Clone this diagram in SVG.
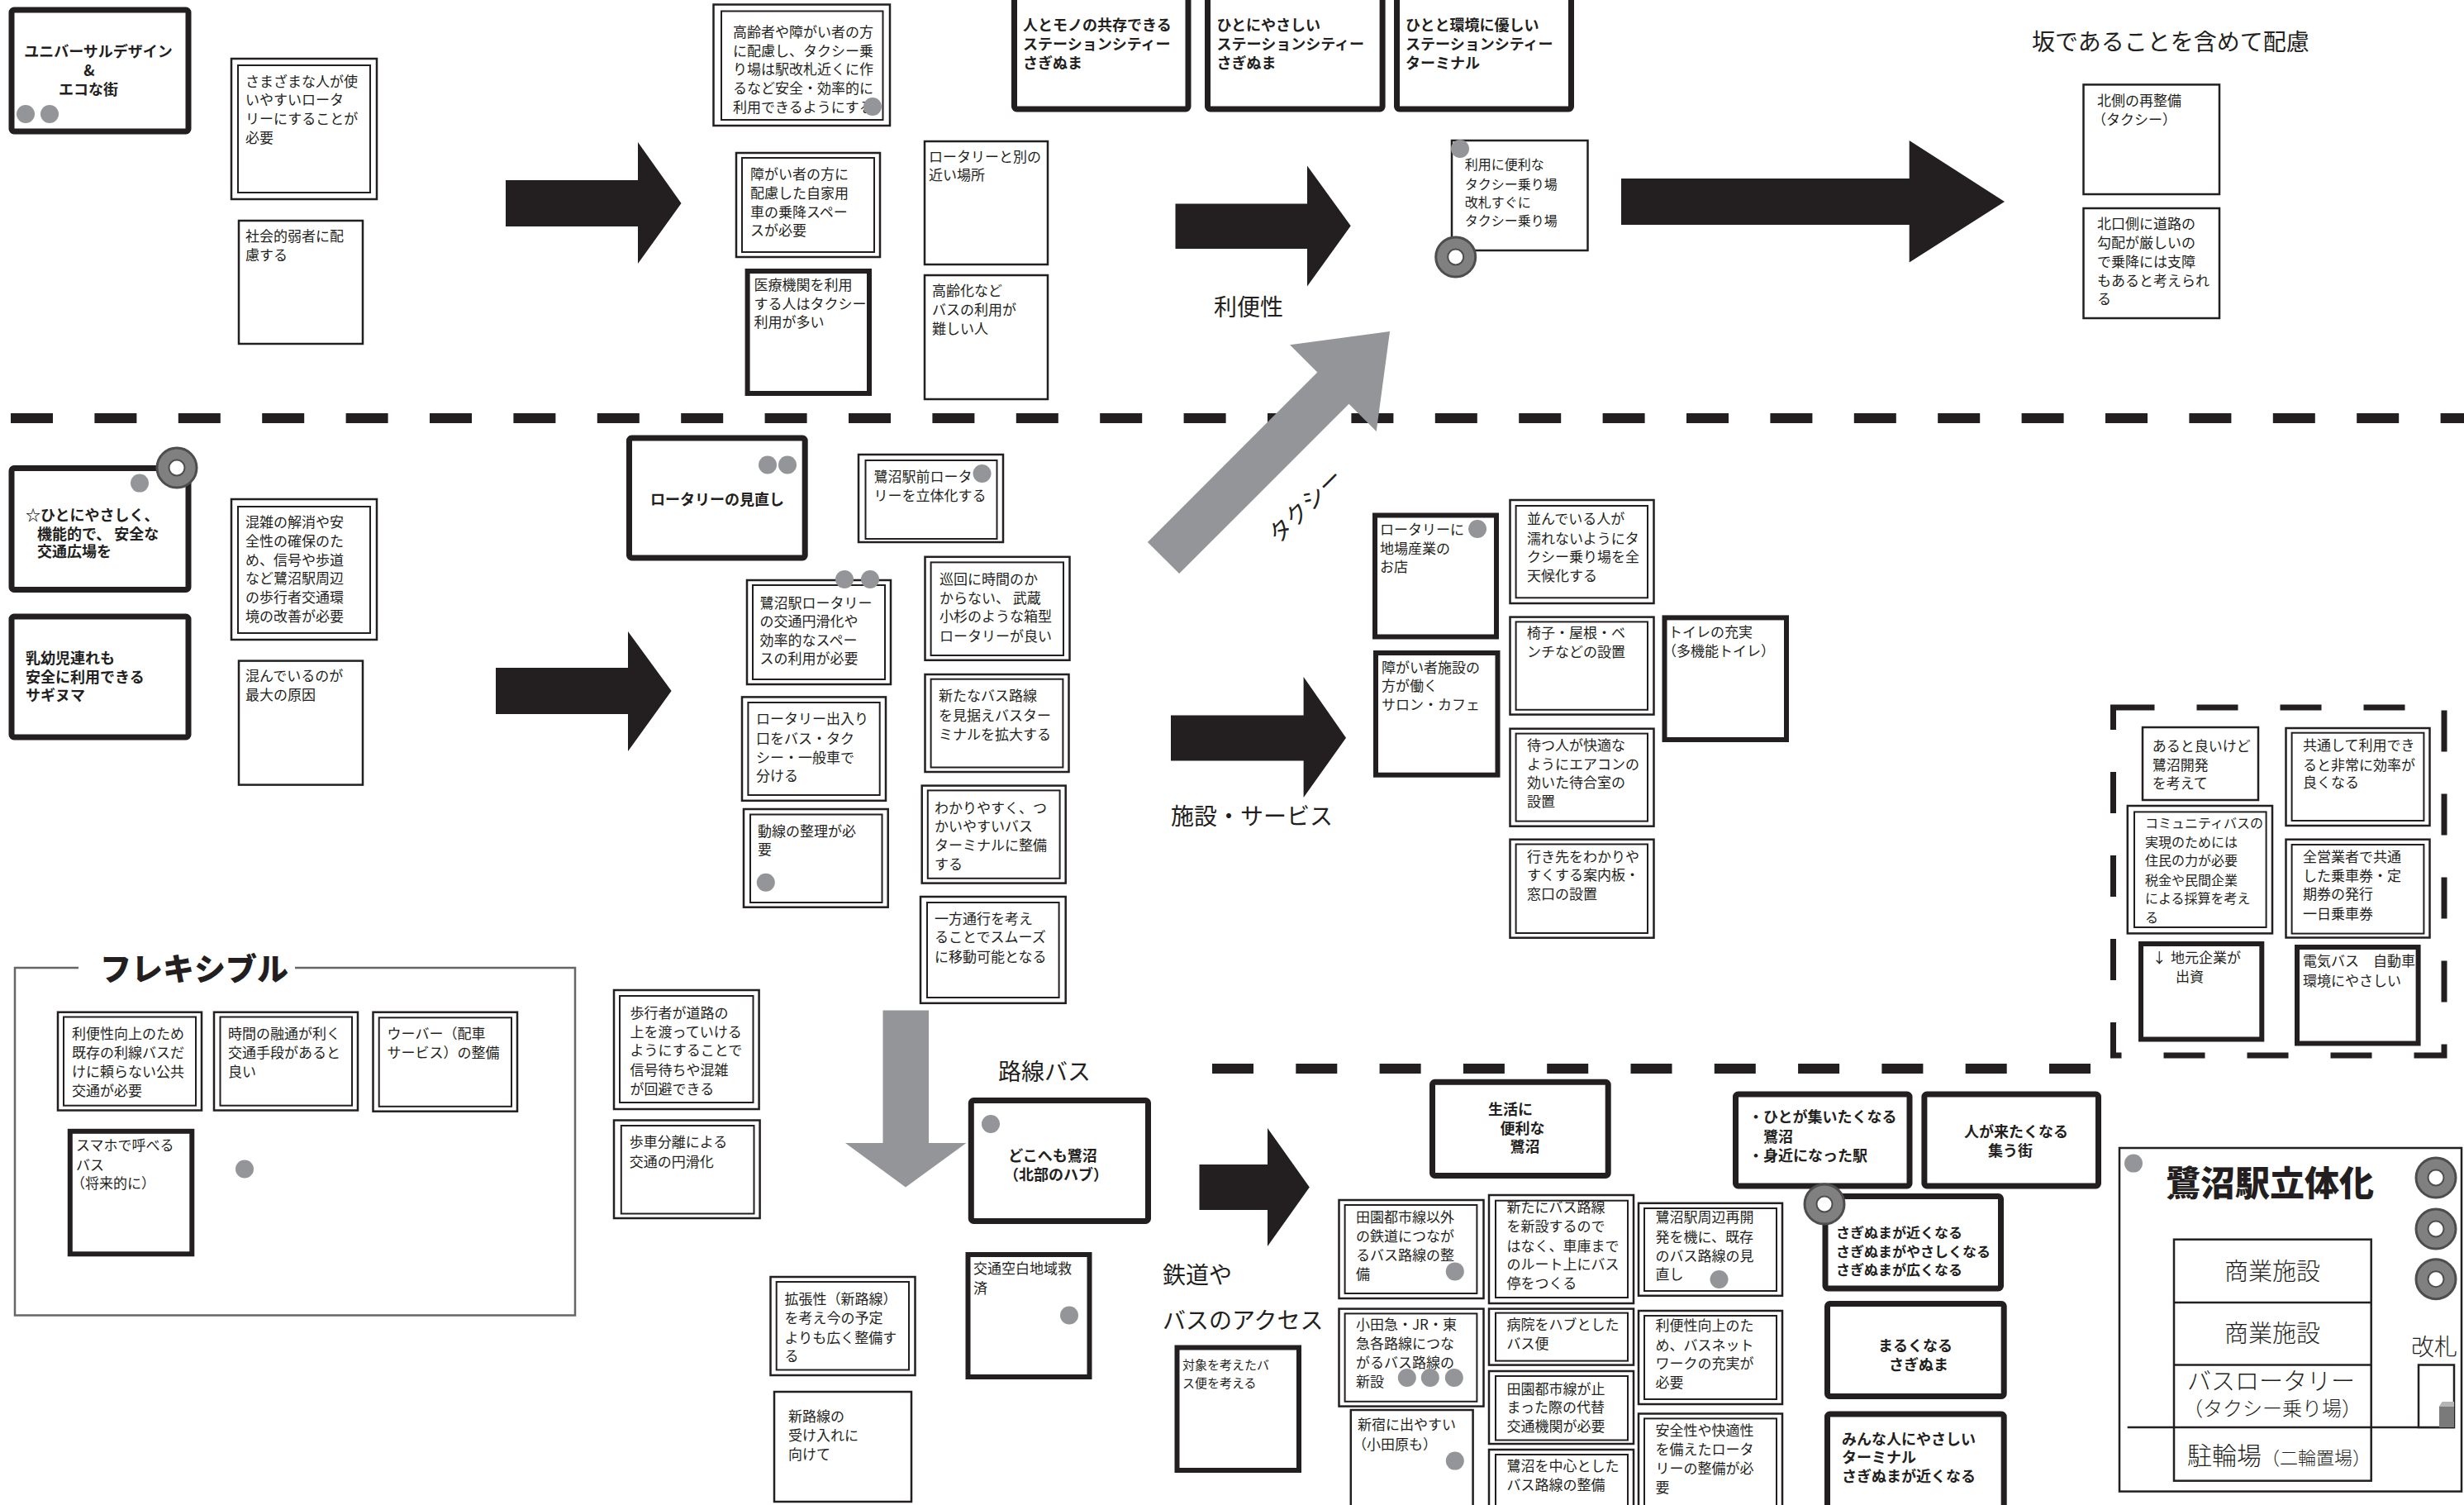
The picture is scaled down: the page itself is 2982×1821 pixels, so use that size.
<svg xmlns="http://www.w3.org/2000/svg" width="2982" height="1821" viewBox="0 0 2982 1821">
<defs>
<style>
.bx{fill:#fff;stroke:#231f20;stroke-width:2.5}
.bi{fill:none;stroke:#231f20;stroke-width:2}
.bt{fill:#fff;stroke:#231f20;stroke-width:6}
.bh{fill:#fff;stroke:#231f20;stroke-width:7}
text{font-family:"Noto Sans CJK JP","Noto Sans CJK SC",sans-serif;fill:#231f20}
.t{font-size:17px}
.s{font-size:16px}
.s15{font-size:15px}
.b{font-size:18px;font-weight:700}
.b17{font-size:17px;font-weight:700}
.lb{font-size:28px;font-weight:400}
.dot{fill:#939598}
.blk{fill:#231f20}
.gry{fill:#939598}
.dash{stroke:#231f20;stroke-width:12;fill:none}
.mid{text-anchor:middle}
</style>
<g id="ring"><circle r="24" fill="#808080" stroke="#4d4d4d" stroke-width="3"/><circle r="9.5" fill="#fff" stroke="#4d4d4d" stroke-width="2"/></g>
</defs>
<rect width="2982" height="1821" fill="#fff"/>

<g id="dividers">
<line x1="13" y1="506" x2="2982" y2="506" class="dash" stroke-dasharray="51 50.4"/>
<line x1="1467" y1="1293" x2="2531" y2="1293" class="dash" stroke-dasharray="50 51.3"/>
</g>

<g id="connectors">
<polygon class="blk" points="612,218 772,218 772,172 824.5,246 772,319 772,274 612,274"/>
<polygon class="blk" points="600,808 760,808 760,764 812.6,836 760,909 760,864 600,864"/>
<polygon class="blk" points="1422.5,246.6 1582,246.6 1582,200.5 1634.7,273.3 1582,346.5 1582,301 1422.5,301"/>
<polygon class="blk" points="1962,216 2310.7,216 2310.7,170 2426,244 2310.7,317.5 2310.7,272 1962,272"/>
<polygon class="blk" points="1417,865.6 1577.6,865.6 1577.6,819 1629,892.7 1577.6,965 1577.6,920.6 1417,920.6"/>
<polygon class="blk" points="1451.5,1409 1534,1409 1534,1365 1584.8,1436.6 1534,1508 1534,1464 1451.5,1464"/>
<polygon class="gry" points="1068.5,1222.5 1124,1222.5 1124,1383 1169.4,1383 1096,1436.6 1023,1383 1068.5,1383"/>
<g transform="translate(1408,675) rotate(-45)">
<polygon class="gry" points="0,-27 290.5,-27 290.5,-74 387.5,0 290.5,74 290.5,27 0,27"/>
<text class="lb mid" x="166" y="87">タクシー</text>
</g>
</g>

<g id="labels">
<text class="lb" x="1469" y="382">利便性</text>
<text class="lb" x="2459" y="61">坂であることを含めて配慮</text>
<text class="lb" x="1417" y="998">施設・サービス</text>
<text class="lb" x="1208" y="1307">路線バス</text>
<text class="lb" x="1407" y="1553">鉄道や</text>
<text class="lb" x="1407" y="1608">バスのアクセス</text>
</g>

<!-- Section 1 -->
<g id="n-universal">
<rect class="bh" x="14" y="12" width="214" height="147" rx="3"/>
<text class="b mid" x="119" y="69">ユニバーサルデザイン</text>
<text class="b mid" x="108" y="92">&amp;</text>
<text class="b mid" x="107" y="115">エコな街</text>
<circle class="dot" cx="31" cy="138" r="11"/><circle class="dot" cx="60" cy="138" r="11"/>
</g>
<g id="n-samazama">
<rect class="bx" x="280" y="71" width="176" height="170"/><rect class="bi" x="288" y="79" width="160" height="154"/>
<text class="t"><tspan x="297" y="104.7">さまざまな人が使</tspan><tspan x="297" y="127.3">いやすいロータ</tspan><tspan x="297" y="149.9">リーにすることが</tspan><tspan x="297" y="172.5">必要</tspan></text>
</g>
<g id="n-shakai">
<rect class="bx" x="289" y="267" width="150" height="149"/>
<text class="t"><tspan x="297" y="291.7">社会的弱者に配</tspan><tspan x="297" y="314.5">慮する</tspan></text>
</g>
<g id="n-koreisha">
<rect class="bx" x="863.5" y="5.5" width="213.5" height="146.5"/><rect class="bi" x="873" y="13.5" width="195.5" height="131.5"/>
<text class="t"><tspan x="887" y="44.7">高齢者や障がい者の方</tspan><tspan x="887" y="67.7">に配慮し、タクシー乗</tspan><tspan x="887" y="90.3">り場は駅改札近くに作</tspan><tspan x="887" y="113">るなど安全・効率的に</tspan><tspan x="887" y="135.7">利用できるようにする</tspan></text>
<circle class="dot" cx="1056" cy="129" r="11"/>
</g>
<g id="n-shogai-jikayo">
<rect class="bx" x="891" y="185" width="174" height="126"/><rect class="bi" x="898" y="191" width="160" height="114"/>
<text class="t"><tspan x="908" y="217">障がい者の方に</tspan><tspan x="908" y="240">配慮した自家用</tspan><tspan x="908" y="262.7">車の乗降スペー</tspan><tspan x="908" y="284.7">スが必要</tspan></text>
</g>
<g id="n-iryo">
<rect class="bt" x="904.6" y="328" width="147.4" height="148"/>
<text class="t"><tspan x="912.5" y="350.6">医療機関を利用</tspan><tspan x="912.5" y="373.8">する人はタクシー</tspan><tspan x="912.5" y="396">利用が多い</tspan></text>
</g>
<g id="n-betsu">
<rect class="bx" x="1119" y="171" width="149" height="149"/>
<text class="t"><tspan x="1124" y="195.7">ロータリーと別の</tspan><tspan x="1124" y="218">近い場所</tspan></text>
</g>
<g id="n-koreika">
<rect class="bx" x="1119" y="333" width="149" height="150"/>
<text class="t"><tspan x="1128" y="357.5">高齢化など</tspan><tspan x="1128" y="380.8">バスの利用が</tspan><tspan x="1128" y="404">難しい人</tspan></text>
</g>
<g id="n-hito-mono">
<rect class="bh" x="1227.5" y="-10" width="210.5" height="142" rx="3"/>
<text class="b"><tspan x="1238" y="37">人とモノの共存できる</tspan><tspan x="1238" y="60">ステーションシティー</tspan><tspan x="1238" y="82.5">さぎぬま</tspan></text>
</g>
<g id="n-hito-yasashii">
<rect class="bh" x="1461.5" y="-10" width="211.6" height="142" rx="3"/>
<text class="b"><tspan x="1472.5" y="37">ひとにやさしい</tspan><tspan x="1472.5" y="60">ステーションシティー</tspan><tspan x="1472.5" y="82.5">さぎぬま</tspan></text>
</g>
<g id="n-hito-kankyo">
<rect class="bh" x="1690.5" y="-10" width="211" height="142" rx="3"/>
<text class="b"><tspan x="1701" y="37">ひとと環境に優しい</tspan><tspan x="1701" y="60">ステーションシティー</tspan><tspan x="1701" y="82.5">ターミナル</tspan></text>
</g>
<g id="n-riyo-benri">
<rect class="bx" x="1757" y="170" width="164.5" height="133"/>
<circle class="dot" cx="1767" cy="180" r="11"/>
<text class="s"><tspan x="1772.7" y="205.4">利用に便利な</tspan><tspan x="1772.7" y="228.6">タクシー乗り場</tspan><tspan x="1772.7" y="251">改札すぐに</tspan><tspan x="1772.7" y="273">タクシー乗り場</tspan></text>
<use href="#ring" x="1761.7" y="311"/>
</g>
<g id="n-kitagawa">
<rect class="bx" x="2521.5" y="102.4" width="164.5" height="132.6"/>
<text class="t"><tspan x="2538" y="128">北側の再整備</tspan><tspan x="2532" y="151">（タクシー）</tspan></text>
</g>
<g id="n-kitaguchi">
<rect class="bx" x="2521.5" y="252" width="164.5" height="133"/>
<text class="t"><tspan x="2538" y="277">北口側に道路の</tspan><tspan x="2538" y="299.5">勾配が厳しいの</tspan><tspan x="2538" y="322.7">で乗降には支障</tspan><tspan x="2538" y="346">もあると考えられ</tspan><tspan x="2538" y="368">る</tspan></text>
</g>

<!-- Section 2 -->
<g id="n-hiroba">
<rect class="bh" x="14" y="566.5" width="214" height="147" rx="3"/>
<text class="b"><tspan x="31" y="629.5">☆ひとにやさしく、</tspan><tspan x="45" y="652.7">機能的で、 安全な</tspan><tspan x="45" y="674">交通広場を</tspan></text>
<circle class="dot" cx="169" cy="584.6" r="11"/>
<use href="#ring" x="214" y="566"/>
</g>
<g id="n-nyuyoji">
<rect class="bh" x="14" y="746" width="214" height="146" rx="3"/>
<text class="b"><tspan x="31" y="803">乳幼児連れも</tspan><tspan x="31" y="825.8">安全に利用できる</tspan><tspan x="31" y="848.2">サギヌマ</tspan></text>
</g>
<g id="n-konzatsu">
<rect class="bx" x="280" y="604" width="176" height="170"/><rect class="bi" x="288" y="613" width="160" height="153"/>
<text class="t"><tspan x="297" y="638">混雑の解消や安</tspan><tspan x="297" y="661.4">全性の確保のた</tspan><tspan x="297" y="683.8">め、信号や歩道</tspan><tspan x="297" y="706">など鷺沼駅周辺</tspan><tspan x="297" y="729">の歩行者交通環</tspan><tspan x="297" y="751.6">境の改善が必要</tspan></text>
</g>
<g id="n-konde">
<rect class="bx" x="289" y="799.6" width="150" height="150"/>
<text class="t"><tspan x="297" y="824">混んでいるのが</tspan><tspan x="297" y="847">最大の原因</tspan></text>
</g>
<g id="n-rotary-minaoshi">
<rect class="bh" x="761.5" y="530" width="212.7" height="145" rx="3"/>
<text class="b mid" x="868" y="611">ロータリーの見直し</text>
<circle class="dot" cx="929" cy="562.5" r="11"/><circle class="dot" cx="953" cy="562.5" r="11"/>
</g>
<g id="n-ekimae-rittai">
<rect class="bx" x="1039" y="550" width="175" height="106"/><rect class="bi" x="1047.5" y="557" width="159" height="95"/>
<text class="t"><tspan x="1057.6" y="583">鷺沼駅前ロータ</tspan><tspan x="1057.6" y="606">リーを立体化する</tspan></text>
<circle class="dot" cx="1188.5" cy="573" r="11"/>
</g>
<g id="n-enkatsu">
<rect class="bx" x="904" y="702" width="174" height="126"/><rect class="bi" x="911" y="708" width="160" height="114"/>
<text class="t"><tspan x="919.6" y="736">鷺沼駅ロータリー</tspan><tspan x="919.6" y="758">の交通円滑化や</tspan><tspan x="919.6" y="780.6">効率的なスペー</tspan><tspan x="919.6" y="802.7">スの利用が必要</tspan></text>
<circle class="dot" cx="1022" cy="701" r="11"/><circle class="dot" cx="1053" cy="701" r="11"/>
</g>
<g id="n-deiri">
<rect class="bx" x="898" y="843.4" width="174" height="125.4"/><rect class="bi" x="905.4" y="850" width="159.3" height="112"/>
<text class="t"><tspan x="915" y="876">ロータリー出入り</tspan><tspan x="915" y="899.5">口をバス・タク</tspan><tspan x="915" y="922.7">シー・一般車で</tspan><tspan x="915" y="945">分ける</tspan></text>
</g>
<g id="n-dosen">
<rect class="bx" x="900" y="979" width="174.7" height="118.7"/><rect class="bi" x="908" y="985.5" width="159.5" height="106.5"/>
<text class="t"><tspan x="917" y="1011.8">動線の整理が必</tspan><tspan x="917" y="1034">要</tspan></text>
<circle class="dot" cx="926.8" cy="1067.7" r="11"/>
</g>
<g id="n-junkai">
<rect class="bx" x="1119.5" y="673.8" width="175" height="125"/><rect class="bi" x="1126.6" y="680.4" width="160.4" height="112.6"/>
<text class="t"><tspan x="1137" y="707">巡回に時間のか</tspan><tspan x="1137" y="730">からない、 武蔵</tspan><tspan x="1137" y="752">小杉のような箱型</tspan><tspan x="1137" y="775.6">ロータリーが良い</tspan></text>
</g>
<g id="n-terminal-kakudai">
<rect class="bx" x="1119.5" y="816" width="174" height="118"/><rect class="bi" x="1126.6" y="821.7" width="159.8" height="106.8"/>
<text class="t"><tspan x="1136" y="848">新たなバス路線</tspan><tspan x="1136" y="871.6">を見据えバスター</tspan><tspan x="1136" y="894.5">ミナルを拡大する</tspan></text>
</g>
<g id="n-wakariyasuku">
<rect class="bx" x="1115.7" y="950.6" width="174" height="118"/><rect class="bi" x="1122.8" y="956.4" width="159.8" height="106.4"/>
<text class="t"><tspan x="1131" y="983.5">わかりやすく、つ</tspan><tspan x="1131" y="1006">かいやすいバス</tspan><tspan x="1131" y="1029">ターミナルに整備</tspan><tspan x="1131" y="1051.6">する</tspan></text>
</g>
<g id="n-ippo">
<rect class="bx" x="1114" y="1085" width="175.7" height="128.8"/><rect class="bi" x="1122" y="1092" width="159.6" height="115"/>
<text class="t"><tspan x="1131" y="1118">一方通行を考え</tspan><tspan x="1131" y="1140">ることでスムーズ</tspan><tspan x="1131" y="1163.5">に移動可能となる</tspan></text>
</g>
<g id="n-jiba">
<rect class="bt" x="1664" y="623.5" width="147" height="147"/>
<text class="t"><tspan x="1670" y="647">ロータリーに</tspan><tspan x="1670" y="670.3">地場産業の</tspan><tspan x="1670" y="692.4">お店</tspan></text>
<circle class="dot" cx="1788" cy="640" r="11"/>
</g>
<g id="n-salon">
<rect class="bt" x="1665" y="790" width="147.5" height="147.7"/>
<text class="t"><tspan x="1672" y="813.5">障がい者施設の</tspan><tspan x="1672" y="836.4">方が働く</tspan><tspan x="1672" y="858.8">サロン・カフェ</tspan></text>
</g>
<g id="n-zentenko">
<rect class="bx" x="1827.5" y="605" width="174" height="125"/><rect class="bi" x="1834.6" y="612" width="159.4" height="111.3"/>
<text class="t"><tspan x="1848" y="634.3">並んでいる人が</tspan><tspan x="1848" y="657.5">濡れないようにタ</tspan><tspan x="1848" y="680">クシー乗り場を全</tspan><tspan x="1848" y="702.8">天候化する</tspan></text>
</g>
<g id="n-isu">
<rect class="bx" x="1827.5" y="746.6" width="174" height="118"/><rect class="bi" x="1834.6" y="752.4" width="159.4" height="106.4"/>
<text class="t"><tspan x="1848" y="771.7">椅子・屋根・ベ</tspan><tspan x="1848" y="795">ンチなどの設置</tspan></text>
</g>
<g id="n-machiai">
<rect class="bx" x="1827.5" y="881.7" width="174" height="118"/><rect class="bi" x="1834.6" y="887.6" width="159.4" height="106"/>
<text class="t"><tspan x="1848" y="908">待つ人が快適な</tspan><tspan x="1848" y="930.5">ようにエアコンの</tspan><tspan x="1848" y="953">効いた待合室の</tspan><tspan x="1848" y="976">設置</tspan></text>
</g>
<g id="n-annai">
<rect class="bx" x="1827.5" y="1015.7" width="174" height="119"/><rect class="bi" x="1834.6" y="1021.5" width="159.4" height="107.5"/>
<text class="t"><tspan x="1848" y="1042.7">行き先をわかりや</tspan><tspan x="1848" y="1065">すくする案内板・</tspan><tspan x="1848" y="1088.4">窓口の設置</tspan></text>
</g>
<g id="n-toilet">
<rect class="bt" x="2014.5" y="747.4" width="147.5" height="147.6"/>
<text class="t"><tspan x="2019" y="771">トイレの充実</tspan><tspan x="2012" y="794">（多機能トイレ）</tspan></text>
</g>

<g id="group-community">
<rect x="2557.5" y="856" width="400.5" height="421" fill="none" stroke="#231f20" stroke-width="7" stroke-dasharray="50 51"/>
</g>
<g id="n-aruto">
<rect class="bx" x="2593" y="880" width="140" height="88"/>
<text class="t"><tspan x="2604.7" y="909">あると良いけど</tspan><tspan x="2604.7" y="931.6">鷺沼開発</tspan><tspan x="2604.7" y="953.7">を考えて</tspan></text>
</g>
<g id="n-kyotsu">
<rect class="bx" x="2766.5" y="881" width="174" height="118"/><rect class="bi" x="2773.6" y="886.7" width="159.8" height="106.3"/>
<text class="t"><tspan x="2787" y="908.4">共通して利用でき</tspan><tspan x="2787" y="931.6">ると非常に効率が</tspan><tspan x="2787" y="953">良くなる</tspan></text>
</g>
<g id="n-community">
<rect class="bx" x="2574.8" y="975" width="175.2" height="154.4"/><rect class="bi" x="2583" y="982.4" width="159.6" height="139.6"/>
<text class="s"><tspan x="2596" y="1002">コミュニティバスの</tspan><tspan x="2596" y="1024.5">実現のためには</tspan><tspan x="2596" y="1047">住民の力が必要</tspan><tspan x="2596" y="1070.6">税金や民間企業</tspan><tspan x="2596" y="1093">による採算を考え</tspan><tspan x="2596" y="1116">る</tspan></text>
</g>
<g id="n-jokenken">
<rect class="bx" x="2766.5" y="1015.7" width="174" height="118.8"/><rect class="bi" x="2773.6" y="1022" width="159.8" height="107.6"/>
<text class="t"><tspan x="2787" y="1042.7">全営業者で共通</tspan><tspan x="2787" y="1066">した乗車券・定</tspan><tspan x="2787" y="1088.4">期券の発行</tspan><tspan x="2787" y="1111.6">一日乗車券</tspan></text>
</g>
<g id="n-jimoto">
<rect class="bt" x="2591" y="1142" width="146.3" height="115.5"/>
<text class="t"><tspan x="2604.7" y="1164.7">↓</tspan><tspan x="2627" y="1164.7">地元企業が</tspan><tspan x="2633" y="1188">出資</tspan></text>
</g>
<g id="n-denki">
<rect class="bt" x="2780" y="1146" width="146.6" height="116.5"/>
<text class="t"><tspan x="2787" y="1169">電気バス　自動車</tspan><tspan x="2787" y="1192.5">環境にやさしい</tspan></text>
</g>

<!-- Section 3 -->
<g id="group-flexible">
<path d="M95,1171 H18 V1591.5 H696 V1171 H357" fill="none" stroke="#666" stroke-width="2.5"/>
<text x="121" y="1186" style="font-size:38px;font-weight:900">フレキシブル</text>
</g>
<g id="n-kokyo">
<rect class="bx" x="70" y="1224.7" width="174" height="118.8"/><rect class="bi" x="77" y="1230.5" width="160" height="107.2"/>
<text class="t"><tspan x="87" y="1256.8">利便性向上のため</tspan><tspan x="87" y="1280">既存の利線バスだ</tspan><tspan x="87" y="1303">けに頼らない公共</tspan><tspan x="87" y="1325.7">交通が必要</tspan></text>
</g>
<g id="n-yuzu">
<rect class="bx" x="259" y="1224.7" width="174" height="118.8"/><rect class="bi" x="266.5" y="1230.5" width="159.5" height="107.2"/>
<text class="t"><tspan x="276" y="1256.8">時間の融通が利く</tspan><tspan x="276" y="1280">交通手段があると</tspan><tspan x="276" y="1302.5">良い</tspan></text>
</g>
<g id="n-uber">
<rect class="bx" x="451.5" y="1224.7" width="174.5" height="120"/><rect class="bi" x="458.7" y="1231.3" width="160.3" height="107.5"/>
<text class="t"><tspan x="468.6" y="1256.8">ウーバー（配車</tspan><tspan x="468.6" y="1280">サービス）の整備</tspan></text>
</g>
<g id="n-sumaho">
<rect class="bt" x="84.8" y="1368.8" width="147.5" height="148.5"/>
<text class="t"><tspan x="92" y="1392">スマホで呼べる</tspan><tspan x="92" y="1415.5">バス</tspan><tspan x="86" y="1438">（将来的に）</tspan></text>
</g>
<circle id="n-dot-flex" class="dot" cx="296" cy="1414.5" r="11"/>

<g id="n-hokosha">
<rect class="bx" x="743" y="1198" width="175.6" height="144"/><rect class="bi" x="750" y="1205" width="161.5" height="129"/>
<text class="t"><tspan x="762.6" y="1231.6">歩行者が道路の</tspan><tspan x="762.6" y="1254.8">上を渡っていける</tspan><tspan x="762.6" y="1277">ようにすることで</tspan><tspan x="762.6" y="1300.5">信号待ちや混雑</tspan><tspan x="762.6" y="1323.8">が回避できる</tspan></text>
</g>
<g id="n-hosha">
<rect class="bx" x="743" y="1355.5" width="176.6" height="118.5"/><rect class="bi" x="751.8" y="1362" width="160.7" height="106.5"/>
<text class="t"><tspan x="761.7" y="1388.4">歩車分離による</tspan><tspan x="761.7" y="1411.6">交通の円滑化</tspan></text>
</g>
<g id="n-dokohemo">
<rect class="bh" x="1175.3" y="1331.5" width="214.2" height="146" rx="3"/>
<circle class="dot" cx="1199" cy="1360" r="11"/>
<text class="b mid" x="1274" y="1405">どこへも鷺沼</text>
<text class="b mid" x="1278" y="1428">（北部のハブ）</text>
</g>
<g id="n-kuhaku">
<rect class="bt" x="1171.5" y="1518" width="147" height="148"/>
<text class="t"><tspan x="1178" y="1541">交通空白地域救</tspan><tspan x="1178" y="1564.6">済</tspan></text>
<circle class="dot" cx="1294" cy="1591.5" r="11"/>
</g>
<g id="n-kakucho">
<rect class="bx" x="932.5" y="1545" width="175" height="119"/><rect class="bi" x="939.7" y="1551" width="160.3" height="106.5"/>
<text class="t"><tspan x="949.6" y="1578">拡張性（新路線）</tspan><tspan x="949.6" y="1601">を考え今の予定</tspan><tspan x="949.6" y="1624.6">よりも広く整備す</tspan><tspan x="949.6" y="1647">る</tspan></text>
</g>
<g id="n-shinrosen">
<rect class="bx" x="937" y="1684" width="166" height="133"/>
<text class="t"><tspan x="954" y="1720">新路線の</tspan><tspan x="954" y="1742.6">受け入れに</tspan><tspan x="954" y="1766">向けて</tspan></text>
</g>
<g id="n-taisho">
<rect class="bt" x="1424.5" y="1630.5" width="147.5" height="148.5"/>
<text class="s15"><tspan x="1431" y="1657">対象を考えたバ</tspan><tspan x="1431" y="1678.8">ス便を考える</tspan></text>
</g>
<g id="n-seikatsu">
<rect class="bh" x="1733.5" y="1309.3" width="212.7" height="113.2" rx="3"/>
<text class="b"><tspan x="1801" y="1349">生活に</tspan><tspan x="1815.5" y="1372">便利な</tspan><tspan x="1827.4" y="1394.4">鷺沼</tspan></text>
</g>
<g id="n-tsudoi">
<rect class="bh" x="2100.5" y="1324" width="210.5" height="111" rx="3"/>
<text class="b"><tspan x="2116" y="1358.4">・ひとが集いたくなる</tspan><tspan x="2134" y="1381.7">鷺沼</tspan><tspan x="2116" y="1405">・身近になった駅</tspan></text>
</g>
<g id="n-hitogakitaku">
<rect class="bh" x="2328.9" y="1324" width="210.6" height="111" rx="3"/>
<text class="b mid" x="2440" y="1376">人が来たくなる</text>
<text class="b mid" x="2433" y="1399">集う街</text>
</g>
<g id="n-chikaku">
<rect class="bh" x="2209" y="1447.5" width="212.5" height="111.5" rx="3"/>
<text class="b17"><tspan x="2222" y="1497.8">さぎぬまが近くなる</tspan><tspan x="2222" y="1521">さぎぬまがやさしくなる</tspan><tspan x="2222" y="1543">さぎぬまが広くなる</tspan></text>
<use href="#ring" x="2208" y="1457"/>
</g>
<g id="n-maruku">
<rect class="bh" x="2211.5" y="1577.5" width="213.7" height="112" rx="3"/>
<text class="b mid" x="2318" y="1635">まるくなる</text>
<text class="b mid" x="2322" y="1657.7">さぎぬま</text>
</g>
<g id="n-minna">
<rect class="bh" x="2211.5" y="1711" width="213.7" height="120" rx="3"/>
<text class="b"><tspan x="2229" y="1747.5">みんな人にやさしい</tspan><tspan x="2229" y="1770">ターミナル</tspan><tspan x="2229" y="1793">さぎぬまが近くなる</tspan></text>
</g>

<g id="n-denentoshi-igai">
<rect class="bx" x="1620.5" y="1452" width="175" height="119"/><rect class="bi" x="1627.6" y="1458" width="159.8" height="107"/>
<text class="t"><tspan x="1641" y="1478.6">田園都市線以外</tspan><tspan x="1641" y="1501.8">の鉄道につなが</tspan><tspan x="1641" y="1525">るバス路線の整</tspan><tspan x="1641" y="1548.3">備</tspan></text>
<circle class="dot" cx="1760.8" cy="1538.4" r="11"/>
</g>
<g id="n-shinsetsu">
<rect class="bx" x="1802" y="1446" width="175" height="131"/><rect class="bi" x="1810" y="1452.7" width="160" height="117.3"/>
<text class="t"><tspan x="1823.6" y="1467">新たにバス路線</tspan><tspan x="1823.6" y="1490">を新設するので</tspan><tspan x="1823.6" y="1513.5">はなく、車庫まで</tspan><tspan x="1823.6" y="1535.5">のルート上にバス</tspan><tspan x="1823.6" y="1558.8">停をつくる</tspan></text>
</g>
<g id="n-saikaihatsu">
<rect class="bx" x="1983" y="1455.8" width="174" height="112"/><rect class="bi" x="1990" y="1462" width="160" height="100"/>
<text class="t"><tspan x="2003.4" y="1479.4">鷺沼駅周辺再開</tspan><tspan x="2003.4" y="1502.6">発を機に、既存</tspan><tspan x="2003.4" y="1526">のバス路線の見</tspan><tspan x="2003.4" y="1548.3">直し</tspan></text>
<circle class="dot" cx="2080.5" cy="1548" r="11"/>
</g>
<g id="n-odakyu">
<rect class="bx" x="1620.5" y="1583.6" width="175" height="118"/><rect class="bi" x="1627.6" y="1589.4" width="159.8" height="106.4"/>
<text class="t"><tspan x="1641" y="1609">小田急・JR・東</tspan><tspan x="1641" y="1632.3">急各路線につな</tspan><tspan x="1641" y="1654.8">がるバス路線の</tspan><tspan x="1641" y="1678">新設</tspan></text>
<circle class="dot" cx="1702.8" cy="1667" r="11"/><circle class="dot" cx="1730.8" cy="1667" r="11"/><circle class="dot" cx="1759.8" cy="1667" r="11"/>
</g>
<g id="n-byoin">
<rect class="bx" x="1802" y="1583.6" width="175" height="68"/><rect class="bi" x="1810" y="1588.6" width="160" height="58"/>
<text class="t"><tspan x="1823.6" y="1609">病院をハブとした</tspan><tspan x="1823.6" y="1631.5">バス便</tspan></text>
</g>
<g id="n-network">
<rect class="bx" x="1983" y="1586" width="174" height="113"/><rect class="bi" x="1990" y="1592" width="160" height="101"/>
<text class="t"><tspan x="2003.4" y="1610">利便性向上のた</tspan><tspan x="2003.4" y="1633.5">め、バスネット</tspan><tspan x="2003.4" y="1655.5">ワークの充実が</tspan><tspan x="2003.4" y="1678.8">必要</tspan></text>
</g>
<g id="n-shinjuku">
<rect class="bx" x="1634.8" y="1706" width="147.8" height="125"/>
<text class="t"><tspan x="1643" y="1730">新宿に出やすい</tspan><tspan x="1637" y="1753.5">（小田原も）</tspan></text>
<circle class="dot" cx="1760.8" cy="1767.6" r="11"/>
</g>
<g id="n-daitai">
<rect class="bx" x="1802" y="1659" width="175" height="88"/><rect class="bi" x="1810" y="1665" width="160" height="77.5"/>
<text class="t"><tspan x="1823.6" y="1686.5">田園都市線が止</tspan><tspan x="1823.6" y="1709">まった際の代替</tspan><tspan x="1823.6" y="1732">交通機関が必要</tspan></text>
</g>
<g id="n-chushin">
<rect class="bx" x="1802" y="1754" width="175" height="80"/><rect class="bi" x="1810" y="1760" width="160" height="62"/>
<text class="t"><tspan x="1823.6" y="1780">鷺沼を中心とした</tspan><tspan x="1823.6" y="1803">バス路線の整備</tspan></text>
</g>
<g id="n-anzen">
<rect class="bx" x="1983" y="1710.5" width="174" height="120"/><rect class="bi" x="1990" y="1716.4" width="160" height="110"/>
<text class="t"><tspan x="2003.4" y="1737">安全性や快適性</tspan><tspan x="2003.4" y="1760">を備えたロータ</tspan><tspan x="2003.4" y="1782.5">リーの整備が必</tspan><tspan x="2003.4" y="1805.7">要</tspan></text>
</g>

<g id="n-rittaika">
<rect x="2565" y="1389" width="414" height="415.6" fill="#fff" stroke="#231f20" stroke-width="2.5"/>
<circle class="dot" cx="2582" cy="1407.6" r="11"/>
<text x="2621" y="1447" style="font-size:42px;font-weight:900">鷺沼駅立体化</text>
<use href="#ring" x="2948" y="1425"/><use href="#ring" x="2948" y="1487"/><use href="#ring" x="2948" y="1547.7"/>
<rect x="2631" y="1499.7" width="238.7" height="292" fill="none" stroke="#231f20" stroke-width="2.5"/>
<line x1="2631" y1="1576" x2="2869.7" y2="1576" stroke="#231f20" stroke-width="2.5"/>
<line x1="2631" y1="1651.5" x2="2869.7" y2="1651.5" stroke="#231f20" stroke-width="2.5"/>
<line x1="2574.7" y1="1727" x2="2971" y2="1727" stroke="#231f20" stroke-width="2.5"/>
<text class="mid" x="2750" y="1549" style="font-size:29px;font-weight:300">商業施設</text>
<text class="mid" x="2750" y="1623.5" style="font-size:29px;font-weight:300">商業施設</text>
<text x="2647" y="1681.5" style="font-size:29px;font-weight:300">バスロータリー</text>
<text class="mid" x="2750" y="1713" style="font-size:24px;font-weight:300">（タクシー乗り場）</text>
<text x="2647" y="1772" style="font-weight:300"><tspan style="font-size:30px">駐輪場</tspan><tspan style="font-size:22px">（二輪置場）</tspan></text>
<text x="2918" y="1640" style="font-size:28px;font-weight:300">改札</text>
<rect x="2927" y="1651.5" width="43" height="75.5" fill="#fff" stroke="#231f20" stroke-width="2.5"/>
<path d="M2952,1727 V1702 L2956,1696 H2970 V1727 Z" fill="#7a7a7a"/>
<path d="M2952,1702 L2956,1696 H2970 V1702 Z" fill="#b5b5b5"/>
</g>
</svg>
